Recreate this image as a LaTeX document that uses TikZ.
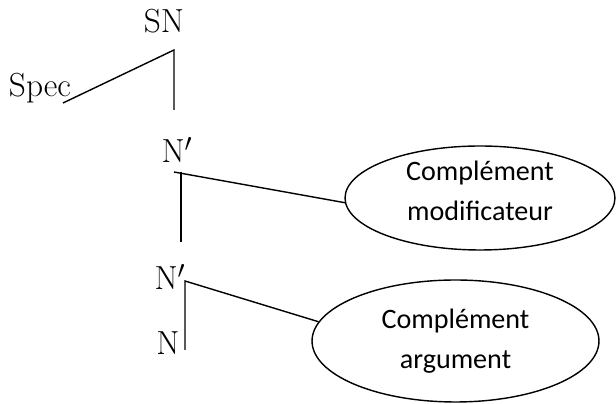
\documentclass[tikz,border=0pt]{standalone}
\usepackage{fontspec}
\newfontfamily\calibri{Carlito}
\usetikzlibrary{shapes.geometric}

\begin{document}
\begin{tikzpicture}[
  x=0.02cm, y=-0.02cm,
  cat/.style={font=\fontsize{19}{22}\selectfont, inner sep=0pt, anchor=base},
  cmpl/.style={draw, ellipse, line width=0.8pt, align=center,
    font=\calibri\fontsize{16}{22.7}\selectfont, inner sep=0pt},
  branch/.style={line width=0.8pt}
]
\useasboundingbox (0,0) rectangle (616,404);

% Categories
\node[cat] (sn) at (164,33) {SN};
\node[cat] (spec) at (40,97) {Spec};
\node[cat] (nbar1) at (177,163) {N$'$};
\node[cat] (nbar2) at (170,290) {N$'$};
\node[cat] (n) at (168,355) {N};

% Complements
\node[cmpl, minimum width=5.4cm, minimum height=2.08cm, text depth=0.28cm]
  (modif) at (480,198) {Complément\\modificateur};
\node[cmpl, minimum width=5.74cm, minimum height=2.44cm] (arg) at (455.5,341)
  {Complément\\argument};

% Joints
\coordinate (specj) at (63,103);
\coordinate (snj) at (174,50);
\coordinate (snfoot) at (174,110);
\coordinate (n1j) at (174,172);
\coordinate (n1top) at (181,172);
\coordinate (n1foot) at (181,242);
\coordinate (n2j) at (185,281);
\coordinate (n2foot) at (185,350);

% Branches
\draw[branch] (specj) -- (snj) -- (snfoot);
\draw[branch] (n1j) -- (modif.182);
\draw[branch] (n1top) -- (n1foot);
\draw[branch] (n2foot) -- (n2j) -- (arg.172);
\end{tikzpicture}
\end{document}
